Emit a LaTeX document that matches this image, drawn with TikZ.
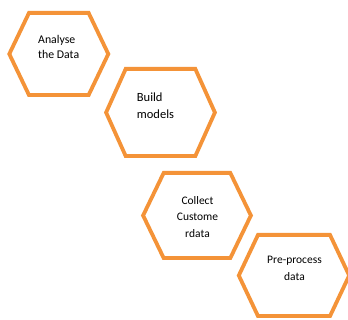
\documentclass[tikz,border=0pt]{standalone}
\usepackage{fontspec}
\setmainfont{Carlito}
\definecolor{hexorange}{RGB}{244,147,56}
\tikzset{
  hexline/.style={draw=hexorange, line width=3.8pt, line join=miter},
  celltext/.style={inner sep=0pt, text=black, font=\fontsize{11.5}{16.5}\selectfont}
}
% hexagon with centre (#1,#2), half width #3, half top edge #4, half height #5
\newcommand{\hexcell}[5]{%
  \draw[hexline] (#1-#3,#2) -- (#1-#4,#2-#5) -- (#1+#4,#2-#5) -- (#1+#3,#2)
    -- (#1+#4,#2+#5) -- (#1-#4,#2+#5) -- cycle;}
\begin{document}
\begin{tikzpicture}[x=1pt,y=-1pt]
  \fill[white] (0,0) rectangle (348,320);
  \clip (0,0) rectangle (348,320);
  \useasboundingbox (0,0) rectangle (348,320);

  % four process steps
  \hexcell{58.8}{54}{49.5}{29.8}{41.1}
  \hexcell{160.5}{112.5}{54.4}{34.8}{43.6}
  \hexcell{197}{215.5}{53.9}{33.3}{42.6}
  \hexcell{294}{275.5}{55.2}{36}{40.6}

  \node[celltext, font=\fontsize{11.8}{15}\selectfont, align=left, anchor=north west]
    (t1) at (38,34.8) {Analyse\\the Data};
  \node[celltext, font=\fontsize{12.5}{16.8}\selectfont, align=left, anchor=north west]
    (t2) at (136.7,93) {Build\\models};
  \node[celltext, align=center, anchor=north]
    (t3) at (197.5,196.3) {Collect\\Custome\\rdata};
  \node[celltext, align=center, anchor=north]
    (t4) at (294.5,256.3) {Pre-process\\data};
\end{tikzpicture}
\end{document}
